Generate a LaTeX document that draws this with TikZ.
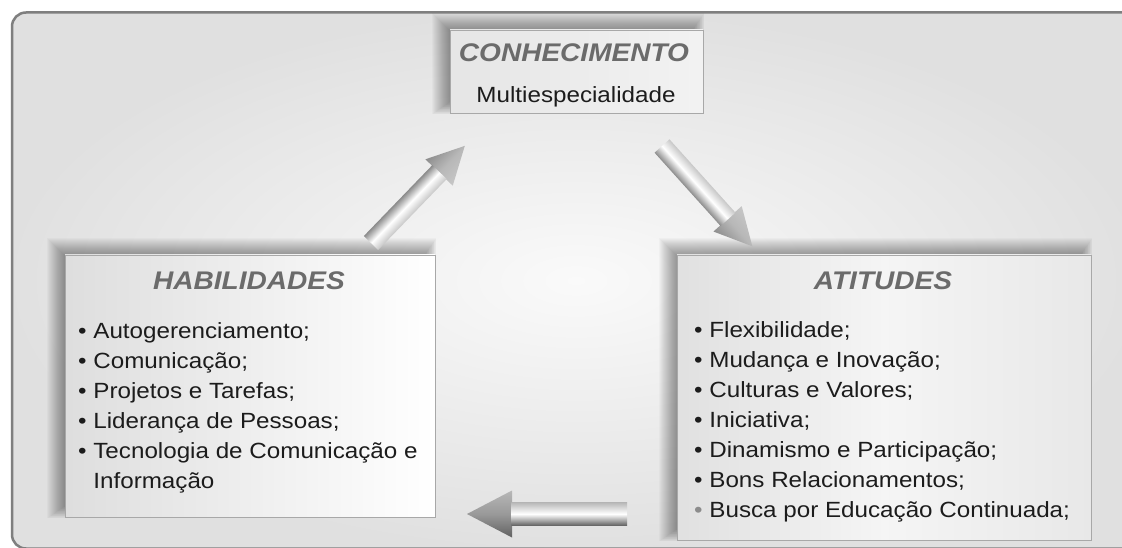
\documentclass[tikz,border=0pt]{standalone}
\usepackage{fontspec}
\setmainfont[FakeStretch=1.1]{Liberation Sans}
\usetikzlibrary{calc}
\pgfdeclarelayer{framelayer}
\pgfdeclarelayer{shadowlayer}
\pgfsetlayers{framelayer,shadowlayer,main}
\definecolor{framec}{HTML}{7F7F7F}
\definecolor{titlec}{HTML}{6B6B6B}
\definecolor{textc}{HTML}{1C1C1C}
\definecolor{boxline}{HTML}{A8A8A8}
% fat shaded arrow: #1 transform, #2 length, #3 shaft half width, #4 head half width, #5 head length, #6 top colour, #7 bottom colour, #8 head middle colour
\newcommand\fatarrow[8]{%
  \begin{scope}[transform canvas={#1}]
    \shade[top color=#6, bottom color=#7, middle color=#8]
      (#2-#5,-#4) -- (#2,0) -- (#2-#5,#4) -- cycle;
    \shade[top color=#6, bottom color=#7, middle color=white]
      (0,-#3) rectangle (#2-#5+0.6,#3);
  \end{scope}}
% soft shadow behind a box node
\newcommand\boxshade[1]{%
  \begin{pgfonlayer}{shadowlayer}
    \foreach \r in {-7,-6,...,10}
      \fill[black,opacity=0.023]
        ([shift={(-8-\r,-7-\r)}]#1.north west) rectangle ([shift={(-6+0.7*\r,-6+0.7*\r)}]#1.south east);
  \end{pgfonlayer}}
\begin{document}
\begin{tikzpicture}[x=1pt,y=-1pt,
  box/.style={draw=boxline, line width=0.8pt, inner sep=0pt, shading=axis},
  titletxt/.style={font=\fontsize{25.5}{30}\selectfont\bfseries\itshape, text=titlec, anchor=base, inner sep=0pt},
  bodytxt/.style={font=\fontsize{22}{30}\selectfont, text=textc, inner sep=0pt},
  item/.style={bodytxt, anchor=base west}]
\useasboundingbox (0,0) rectangle (1122,548);
\clip (0,0) rectangle (1122,548);

% outer frame
\begin{pgfonlayer}{framelayer}
  \fill[white] (0,0) rectangle (1122,548);
  \draw[framec, line width=2.5pt, rounded corners=14pt, inner color=white!98!black, outer color=black!12]
    (12,12.5) rectangle (1140,548.5);
\end{pgfonlayer}

% boxes
\node[box, left color=black!10, right color=black!5, minimum width=253pt, minimum height=83pt] (con) at (576.5,71.5) {};
\node[box, left color=black!13, right color=white, minimum width=370pt, minimum height=262pt] (hab) at (250,386) {};
\node[box, left color=black!12, right color=black!9, middle color=white!96!black, minimum width=414pt, minimum height=285pt] (ati) at (884,397.5) {};
\boxshade{con}
\boxshade{hab}
\boxshade{ati}

% texts
\node[titletxt] (con-t) at (574,62) {CONHECIMENTO};
\node[bodytxt, anchor=base] (con-s) at (576,103) {Multiespecialidade};
\node[titletxt] (hab-t) at (249,290) {HABILIDADES};
\node[titletxt] (ati-t) at (883,290) {ATITUDES};

\foreach \t [count=\i] in {• Autogerenciamento;, • Comunicação;, • Projetos e Tarefas;, • Liderança de Pessoas;, • Tecnologia de Comunicação e, \phantom{• }Informação}
  \node[item] (hab-\i) at (78,308+30*\i) {\t};

\foreach \t [count=\i] in {• Flexibilidade;, • Mudança e Inovação;, • Culturas e Valores;, • Iniciativa;, • Dinamismo e Participação;, • Bons Relacionamentos;, {\color{black!45}•} Busca por Educação Continuada;}
  \node[item] (ati-\i) at (694,307+30*\i) {\t};

% arrows
\fatarrow{shift={(371,243)},rotate=46}{135}{10}{19}{37}{black!45}{black!22}{black!28}
\fatarrow{shift={(662,146)},rotate=-48}{135}{10}{19}{37}{black!22}{black!45}{black!28}
\fatarrow{shift={(627,514)},xscale=-1}{160}{11.5}{23.5}{45}{black!28}{black!62}{black!40}
\end{tikzpicture}
\end{document}
